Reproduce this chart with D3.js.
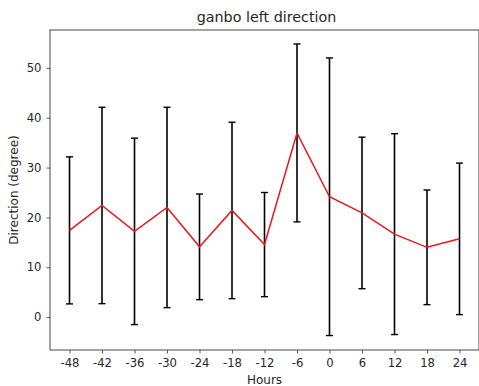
<!DOCTYPE html>
<html>
<head>
<meta charset="utf-8">
<script src="https://cdn.jsdelivr.net/npm/d3@7"></script>
<style>
  body { margin: 0; background: #fff; }
  text { font-family: "DejaVu Sans", sans-serif; fill: #262626; }
</style>
</head>
<body>
<div id="chart"></div>
<script>
var hours = [-48, -42, -36, -30, -24, -18, -12, -6, 0, 6, 12, 18, 24];
var meanDir = [17.4, 22.4, 17.2, 22.0, 14.1, 21.4, 14.55, 36.95, 24.15, 20.9, 16.65, 14.0, 15.7];
var errDir = [14.75, 19.7, 18.7, 20.1, 10.6, 17.7, 10.45, 17.85, 27.85, 15.2, 20.15, 11.5, 15.2];
var yTicks = [0, 10, 20, 30, 40, 50];

var W = 479, H = 386;
var margin = {top: 30, right: 0, bottom: 36, left: 50};
var width = W - margin.left - margin.right;
var height = H - margin.top - margin.bottom;

var data = hours.map(function(h, i) { return {h: h, m: meanDir[i], e: errDir[i]}; });

var svg = d3.select("#chart").append("svg")
    .attr("width", W)
    .attr("height", H);

var g = svg.append("g")
    .attr("transform", "translate(" + margin.left + "," + margin.top + ")");

var x = d3.scaleLinear().domain([-51.6, 27.6]).range([0, width]);
var y = d3.scaleLinear().domain([-6.6, 57.6]).range([height, 0]);

// error bars
var bars = g.selectAll(".eb").data(data).enter().append("g").attr("class", "eb");
bars.append("line")
    .attr("x1", function(d) { return x(d.h); })
    .attr("x2", function(d) { return x(d.h); })
    .attr("y1", function(d) { return y(d.m - d.e); })
    .attr("y2", function(d) { return y(d.m + d.e); })
    .attr("stroke", "#000").attr("stroke-width", 1.6);
[-1, 1].forEach(function(s) {
  bars.append("line")
      .attr("x1", function(d) { return x(d.h) - 3.5; })
      .attr("x2", function(d) { return x(d.h) + 3.5; })
      .attr("y1", function(d) { return y(d.m + s * d.e); })
      .attr("y2", function(d) { return y(d.m + s * d.e); })
      .attr("stroke", "#000").attr("stroke-width", 1.4);
});

// mean line
var line = d3.line()
    .x(function(d) { return x(d.h); })
    .y(function(d) { return y(d.m); });
g.append("path")
    .datum(data)
    .attr("d", line)
    .attr("fill", "none")
    .attr("stroke", "#e8161b")
    .attr("stroke-width", 1.5);

// axes
var xAxis = d3.axisBottom(x).tickValues(hours).tickSize(3.5).tickPadding(5).tickFormat(d3.format("d"));
var yAxis = d3.axisLeft(y).tickValues(yTicks).tickSize(3.5).tickPadding(5);

var gx = g.append("g").attr("transform", "translate(0," + height + ")").call(xAxis);
var gy = g.append("g").call(yAxis);
[gx, gy].forEach(function(a) {
  a.select(".domain").remove();
  a.selectAll("line").attr("stroke", "#333").attr("stroke-width", 0.8);
  a.selectAll("text").style("font-size", "11.6px").style("font-family", "DejaVu Sans, sans-serif").attr("fill", "#262626");
});
gx.selectAll("text").text(function(d) { return d < 0 ? "-" + Math.abs(d) : d; });

// frame
g.append("rect")
    .attr("x", 0).attr("y", 0)
    .attr("width", width).attr("height", height)
    .attr("fill", "none").attr("stroke", "#333").attr("stroke-width", 0.9);

svg.append("text")
    .attr("x", margin.left + width / 2 + 2).attr("y", 22)
    .attr("text-anchor", "middle")
    .style("font-size", "14.3px")
    .text("ganbo left direction");

svg.append("text")
    .attr("x", margin.left + width / 2).attr("y", H - 2)
    .attr("text-anchor", "middle")
    .style("font-size", "12px")
    .text("Hours");

svg.append("text")
    .attr("transform", "translate(18," + (margin.top + height / 2) + ") rotate(-90)")
    .attr("text-anchor", "middle")
    .style("font-size", "12px")
    .text("Direction (degree)");
</script>
</body>
</html>
